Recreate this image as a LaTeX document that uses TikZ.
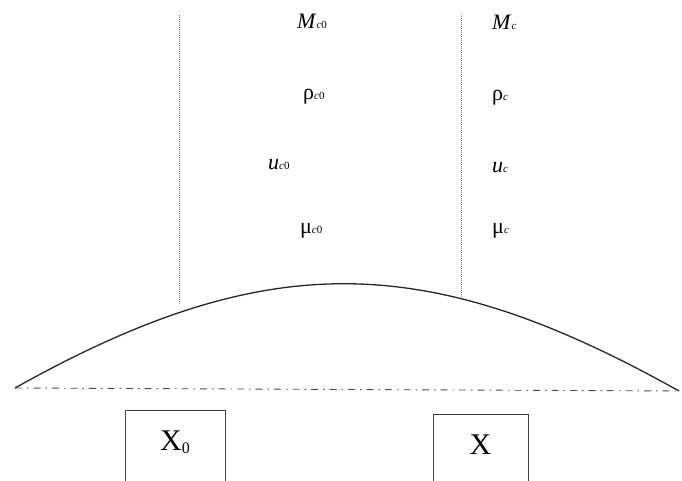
\documentclass[tikz,border=0pt]{standalone}
\usepackage{fontspec}
\setmainfont{Liberation Serif}
\newcommand\mysub[1]{{\fontsize{11}{11}\selectfont #1}}
\begin{document}
\begin{tikzpicture}[x=1pt,y=1pt,
  lbl/.style={anchor=base west, inner sep=0pt, font=\fontsize{22}{22}\selectfont},
  boxnode/.style={draw=black!75, line width=0.9pt, anchor=base, inner sep=0pt,
     minimum width=#1, text height=40pt, text depth=40pt, font=\fontsize{30}{30}\selectfont},
  guide/.style={draw=black!55, line width=0.7pt, dash pattern=on 1pt off 1pt},
  axisline/.style={draw=black!70, line width=0.9pt, dash pattern=on 7pt off 5pt on 1.5pt off 5pt},
  curve/.style={draw=black!85, line width=1.3pt}
  ]
\useasboundingbox (0,0) rectangle (682,480);
\clip (0,0) rectangle (682,480);

% labels, left column
\node[lbl] (Mc0)  at (297,451) {\textit{M}\mysub{\textit{c}0}};
\node[lbl] (rc0)  at (303,380) {ρ\mysub{\textit{c}0}};
\node[lbl] (uc0)  at (268,310) {\textit{u}\mysub{\textit{c}0}};
\node[lbl] (muc0) at (300,247) {μ\mysub{\textit{c}0}};

% labels, right column
\node[lbl] (Mc)  at (492,450) {\textit{M}\mysub{\textit{c}}};
\node[lbl] (rc)  at (492,379) {ρ\mysub{\textit{c}}};
\node[lbl] (uc)  at (492,307) {\textit{u}\mysub{\textit{c}}};
\node[lbl] (muc) at (492,247) {μ\mysub{\textit{c}}};

% curve and axis
\coordinate (L) at (15,92);
\coordinate (R) at (679,89);
\draw[axisline] (L) -- (R);
\draw[curve] (L) .. controls (267,233) and (427,230) .. (R);

% vertical guides
\coordinate (g1t) at (179,465);
\coordinate (g1b) at (179,176);
\coordinate (g2t) at (461,466);
\coordinate (g2b) at (461,183);
\draw[guide] (g1t) -- (g1b);
\draw[guide] (g2t) -- (g2b);

% boxes
\node[boxnode=100pt] (x0) at (175,30) {X\mysub{\raisebox{-3pt}{\fontsize{16}{16}\selectfont 0}}};
\node[boxnode=95pt] (x) at (480.5,26) {X};
\end{tikzpicture}
\end{document}
